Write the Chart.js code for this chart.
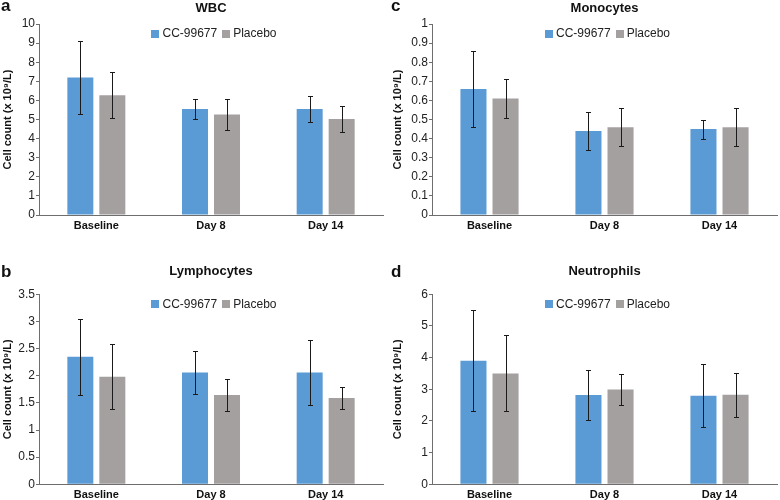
<!DOCTYPE html>
<html><head><meta charset="utf-8">
<script src="https://cdn.jsdelivr.net/npm/chart.js@4"></script>
<style>
html,body{margin:0;padding:0;background:#fff;}
#wrap{position:relative;width:780px;height:500px;overflow:hidden;background:#fff;}
canvas{position:absolute;}
</style></head><body><div id="wrap">
<canvas id="cA" width="390" height="240" style="left:0;top:0;width:390px;height:240px"></canvas>
<canvas id="cC" width="390" height="240" style="left:390px;top:0;width:390px;height:240px"></canvas>
<canvas id="cB" width="390" height="250" style="left:0;top:250px;width:390px;height:250px"></canvas>
<canvas id="cD" width="390" height="250" style="left:390px;top:250px;width:390px;height:250px"></canvas>
</div>
<script>
// ---- data ----
const categories = ['Baseline', 'Day 8', 'Day 14'];
const seriesNames = ['CC-99677', 'Placebo'];

const wbcDrug = [7.2, 5.55, 5.55];
const wbcDrugErr = [1.9, 0.5, 0.7];
const wbcPlacebo = [6.27, 5.26, 5.03];
const wbcPlaceboErr = [1.2, 0.8, 0.7];
const wbcTicks = {min: 0, max: 10, step: 1};

const lymDrug = [2.35, 2.06, 2.06];
const lymDrugErr = [0.7, 0.4, 0.6];
const lymPlacebo = [1.98, 1.645, 1.59];
const lymPlaceboErr = [0.6, 0.3, 0.2];
const lymTicks = {min: 0, max: 3.5, step: 0.5};

const monoDrug = [0.66, 0.44, 0.45];
const monoDrugErr = [0.2, 0.1, 0.05];
const monoPlacebo = [0.61, 0.46, 0.46];
const monoPlaceboErr = [0.1, 0.1, 0.1];
const monoTicks = {min: 0, max: 1, step: 0.1};

const neutDrug = [3.9, 2.82, 2.8];
const neutDrugErr = [1.6, 0.8, 1.0];
const neutPlacebo = [3.5, 2.99, 2.83];
const neutPlaceboErr = [1.2, 0.5, 0.7];
const neutTicks = {min: 0, max: 6, step: 1};

const yAxisTitle = 'Cell count (x 10\u2079/L)';

// ---- styling ----
const FONT = '"Liberation Sans", Arial, Helvetica, sans-serif';
Chart.defaults.font.family = FONT;
Chart.defaults.color = '#222';
const BLUE = '#5b9bd5';
const GREY = '#a4a09f';
const AXIS = '#6e6e6e';

const errorBarPlugin = {
  id: 'errorBars',
  afterDatasetsDraw(chart) {
    const ctx = chart.ctx;
    const ys = chart.scales.y;
    chart.data.datasets.forEach((ds, i) => {
      if (!ds.errors) return;
      const meta = chart.getDatasetMeta(i);
      meta.data.forEach((bar, j) => {
        const v = ds.data[j], e = ds.errors[j];
        const x = Math.round(bar.x) + 0.5;
        const yt = Math.round(ys.getPixelForValue(v + e)) + 0.5;
        const yb = Math.round(ys.getPixelForValue(v - e)) + 0.5;
        ctx.save();
        ctx.strokeStyle = '#1a1a1a';
        ctx.lineWidth = 1;
        ctx.beginPath();
        ctx.moveTo(x, yt); ctx.lineTo(x, yb);
        ctx.moveTo(x - 2.5, yt); ctx.lineTo(x + 2.5, yt);
        ctx.moveTo(x - 2.5, yb); ctx.lineTo(x + 2.5, yb);
        ctx.stroke();
        ctx.restore();
      });
    });
  }
};

// legend drawn inside the top of the plot area, centred, horizontal
const inlineLegendPlugin = {
  id: 'inlineLegend',
  afterDraw(chart) {
    const ctx = chart.ctx;
    const area = chart.chartArea;
    const box = 8, gapText = 3, gapItem = 5;
    ctx.save();
    ctx.font = '12px ' + FONT;
    const items = chart.data.datasets.map(ds => ({
      text: ds.label, color: ds.backgroundColor, w: ctx.measureText(ds.label).width
    }));
    let total = 0;
    items.forEach((it, i) => { total += box + gapText + it.w + (i ? gapItem : 0); });
    let x = (area.left + area.right) / 2 - total / 2 + 3;
    const yc = area.top + 10;
    ctx.textBaseline = 'middle';
    ctx.textAlign = 'left';
    items.forEach((it, i) => {
      if (i) x += gapItem;
      ctx.fillStyle = it.color;
      ctx.fillRect(Math.round(x), Math.round(yc - 4), box, box);
      x += box + gapText;
      ctx.fillStyle = '#222';
      ctx.fillText(it.text, x, yc);
      x += it.w;
    });
    ctx.restore();
  }
};

const letterPlugin = {
  id: 'panelLetter',
  afterDraw(chart, args, opts) {
    if (!opts.text) return;
    const ctx = chart.ctx;
    ctx.save();
    ctx.font = 'bold 17px ' + FONT;
    ctx.fillStyle = '#111';
    ctx.textAlign = 'left';
    ctx.textBaseline = 'alphabetic';
    ctx.fillText(opts.text, opts.x, opts.y);
    ctx.restore();
  }
};

function fmt(v) { return String(Math.round(v * 100) / 100); }

function makePanel(id, p) {
  new Chart(document.getElementById(id), {
    type: 'bar',
    data: {
      labels: categories,
      datasets: [
        {label: seriesNames[0], data: p.drug, errors: p.drugErr,
         backgroundColor: BLUE, borderWidth: 0},
        {label: seriesNames[1], data: p.placebo, errors: p.placeboErr,
         backgroundColor: GREY, borderWidth: 0}
      ]
    },
    options: {
      responsive: false,
      animation: false,
      devicePixelRatio: 1,
      layout: {padding: {left: 0, right: p.padRight, top: 0, bottom: 0}},
      datasets: {bar: {categoryPercentage: 0.558, barPercentage: 0.8125}},
      plugins: {
        tooltip: {enabled: false},
        legend: {display: false},
        title: {
          display: true, text: p.title, fullSize: false,
          font: {size: 13, weight: 'bold'}, color: '#111',
          padding: {top: p.titleTop, bottom: p.titleBottom}
        },
        panelLetter: {text: p.letter, x: 1, y: p.letterY}
      },
      scales: {
        x: {
          grid: {display: false, drawTicks: false},
          border: {display: true, color: AXIS, width: 1},
          ticks: {font: {size: 11, weight: 'bold'}, color: '#111', padding: 4, maxRotation: 0},
          afterFit(s) { s.height = p.xHeight; }
        },
        y: {
          min: p.ticks.min, max: p.ticks.max,
          grid: {drawOnChartArea: false, drawTicks: true, tickLength: 3, color: AXIS},
          border: {display: true, color: AXIS, width: 1},
          ticks: {stepSize: p.ticks.step, font: {size: 12}, color: '#222', padding: 1,
                  callback: (v) => fmt(v)},
          title: {display: true, text: yAxisTitle, font: {size: 11, weight: 'bold'},
                  color: '#111', padding: {top: 1, bottom: 0}},
          afterFit(s) { s.width = p.yWidth; }
        }
      }
    },
    plugins: [errorBarPlugin, inlineLegendPlugin, letterPlugin]
  });
}

makePanel('cA', {title: 'WBC', letter: 'a', letterY: 11, drug: wbcDrug, drugErr: wbcDrugErr,
  placebo: wbcPlacebo, placeboErr: wbcPlaceboErr, ticks: wbcTicks,
  yWidth: 39, padRight: 7, titleTop: 0.5, titleBottom: 7.9, xHeight: 25});
makePanel('cC', {title: 'Monocytes', letter: 'c', letterY: 11, drug: monoDrug, drugErr: monoDrugErr,
  placebo: monoPlacebo, placeboErr: monoPlaceboErr, ticks: monoTicks,
  yWidth: 42, padRight: 3, titleTop: 0.5, titleBottom: 7.9, xHeight: 25});
makePanel('cB', {title: 'Lymphocytes', letter: 'b', letterY: 27, drug: lymDrug, drugErr: lymDrugErr,
  placebo: lymPlacebo, placeboErr: lymPlaceboErr, ticks: lymTicks,
  yWidth: 39, padRight: 7, titleTop: 13.7, titleBottom: 15.0, xHeight: 15.7});
makePanel('cD', {title: 'Neutrophils', letter: 'd', letterY: 27, drug: neutDrug, drugErr: neutDrugErr,
  placebo: neutPlacebo, placeboErr: neutPlaceboErr, ticks: neutTicks,
  yWidth: 42, padRight: 3, titleTop: 13.7, titleBottom: 15.0, xHeight: 15.7});
</script>
</body></html>
